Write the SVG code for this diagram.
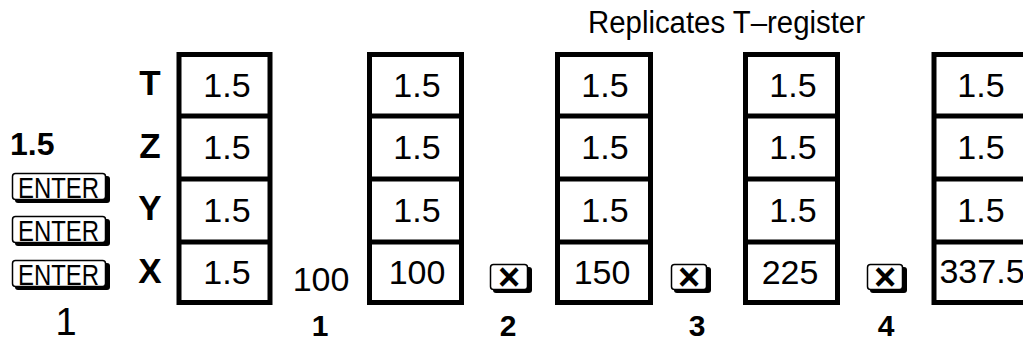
<svg xmlns="http://www.w3.org/2000/svg" width="1023" height="343" viewBox="0 0 1023 343">
<style>
.bg{fill:#fff}
.reg{fill:#fff;stroke:#000;stroke-width:5}
.open{fill:none;stroke:#000;stroke-width:5}
.div{stroke:#000;stroke-width:5}
.num{font-family:"Liberation Sans",Arial,sans-serif;font-size:34px;fill:#000;text-anchor:middle}
.lbl{font-family:"Liberation Sans",Arial,sans-serif;font-size:35px;font-weight:bold;fill:#000;text-anchor:middle}
.step{font-family:"Liberation Sans",Arial,sans-serif;font-size:30px;font-weight:bold;fill:#000;text-anchor:middle}
.keytxt{font-family:"Liberation Sans",Arial,sans-serif;font-size:30px;fill:#000}
.keyx{font-family:"Liberation Sans",Arial,sans-serif;font-size:38px;font-weight:bold;fill:#000;text-anchor:middle}
.kface{fill:#fff;stroke:#000;stroke-width:1.5}
.kshadow{fill:#000}
.cap{font-family:"Liberation Sans",Arial,sans-serif;font-size:31px;fill:#000}
</style>
<rect class="bg" x="0" y="0" width="1023" height="343"/>

<g id="caption"><text class="cap" x="588" y="33" textLength="277" lengthAdjust="spacingAndGlyphs">Replicates T–register</text></g>

<g id="input-keys">
  <text x="10" y="155" font-family="Liberation Sans, Arial, sans-serif" font-size="32" font-weight="bold">1.5</text>
  <g id="enter1">
    <rect class="kshadow" x="15" y="176" width="95" height="27" rx="3"/>
    <rect class="kface" x="12.5" y="173.5" width="93" height="26" rx="3"/>
    <text class="keytxt" x="18" y="197.5" textLength="81" lengthAdjust="spacingAndGlyphs">ENTER</text>
  </g>
  <g id="enter2">
    <rect class="kshadow" x="15" y="219" width="95" height="27" rx="3"/>
    <rect class="kface" x="12.5" y="216.5" width="93" height="26" rx="3"/>
    <text class="keytxt" x="18" y="240.5" textLength="81" lengthAdjust="spacingAndGlyphs">ENTER</text>
  </g>
  <g id="enter3">
    <rect class="kshadow" x="15" y="263" width="95" height="27" rx="3"/>
    <rect class="kface" x="12.5" y="260.5" width="93" height="26" rx="3"/>
    <text class="keytxt" x="18" y="284.5" textLength="81" lengthAdjust="spacingAndGlyphs">ENTER</text>
  </g>
</g>

<g id="stack-labels">
  <text class="lbl" x="150" y="95">T</text>
  <text class="lbl" x="150" y="158">Z</text>
  <text class="lbl" x="150" y="220">Y</text>
  <text class="lbl" x="150" y="283">X</text>
</g>

<g id="stack1">
  <rect class="reg" x="179" y="54.5" width="91" height="248"/>
  <line class="div" x1="179" y1="116" x2="270" y2="116"/>
  <line class="div" x1="179" y1="179" x2="270" y2="179"/>
  <line class="div" x1="179" y1="242" x2="270" y2="242"/>
  <text class="num" x="227" y="97">1.5</text>
  <text class="num" x="227" y="159">1.5</text>
  <text class="num" x="227" y="222">1.5</text>
  <text class="num" x="227" y="284">1.5</text>
</g>

<g id="entry100"><text class="num" x="321" y="291">100</text></g>

<g id="stack2">
  <rect class="reg" x="369.5" y="54.5" width="92" height="248"/>
  <line class="div" x1="369.5" y1="116" x2="461.5" y2="116"/>
  <line class="div" x1="369.5" y1="179" x2="461.5" y2="179"/>
  <line class="div" x1="369.5" y1="242" x2="461.5" y2="242"/>
  <text class="num" x="417" y="97">1.5</text>
  <text class="num" x="417" y="159">1.5</text>
  <text class="num" x="417" y="222">1.5</text>
  <text class="num" x="417" y="284">100</text>
</g>

<g id="key-times-1">
  <rect class="kshadow" x="493" y="267" width="39" height="26" rx="3"/>
  <rect class="kface" x="490.5" y="264.5" width="37" height="25" rx="3"/>
  <text class="keyx" x="509" y="290">×</text>
</g>

<g id="stack3">
  <rect class="reg" x="557.5" y="54.5" width="93" height="248"/>
  <line class="div" x1="557.5" y1="116" x2="650.5" y2="116"/>
  <line class="div" x1="557.5" y1="179" x2="650.5" y2="179"/>
  <line class="div" x1="557.5" y1="242" x2="650.5" y2="242"/>
  <text class="num" x="605" y="97">1.5</text>
  <text class="num" x="605" y="159">1.5</text>
  <text class="num" x="605" y="222">1.5</text>
  <text class="num" x="602" y="284">150</text>
</g>

<g id="key-times-2">
  <rect class="kshadow" x="674" y="267" width="37" height="26" rx="3"/>
  <rect class="kface" x="671.5" y="264.5" width="35" height="25" rx="3"/>
  <text class="keyx" x="689" y="290">×</text>
</g>

<g id="stack4">
  <rect class="reg" x="745.5" y="54.5" width="92" height="248"/>
  <line class="div" x1="745.5" y1="116" x2="837.5" y2="116"/>
  <line class="div" x1="745.5" y1="179" x2="837.5" y2="179"/>
  <line class="div" x1="745.5" y1="242" x2="837.5" y2="242"/>
  <text class="num" x="793" y="97">1.5</text>
  <text class="num" x="793" y="159">1.5</text>
  <text class="num" x="793" y="222">1.5</text>
  <text class="num" x="790" y="284">225</text>
</g>

<g id="key-times-3">
  <rect class="kshadow" x="870" y="267" width="37" height="26" rx="3"/>
  <rect class="kface" x="867.5" y="264.5" width="35" height="25" rx="3"/>
  <text class="keyx" x="885" y="290">×</text>
</g>

<g id="stack5">
  <path class="open" d="M1023,54.5 H934 V302.5 H1023"/>
  <line class="div" x1="934" y1="116" x2="1023" y2="116"/>
  <line class="div" x1="934" y1="179" x2="1023" y2="179"/>
  <line class="div" x1="934" y1="242" x2="1023" y2="242"/>
  <text class="num" x="981" y="97">1.5</text>
  <text class="num" x="981" y="159">1.5</text>
  <text class="num" x="981" y="222">1.5</text>
  <text class="num" x="982" y="283" font-size="29">337.5</text>
</g>

<g id="step-numbers">
  <text x="66" y="335" font-family="Liberation Sans, Arial, sans-serif" font-size="38" text-anchor="middle">1</text>
  <text class="step" x="320" y="336">1</text>
  <text class="step" x="508" y="336">2</text>
  <text class="step" x="697" y="336">3</text>
  <text class="step" x="886" y="336">4</text>
</g>

<g id="connectors"/>
</svg>
